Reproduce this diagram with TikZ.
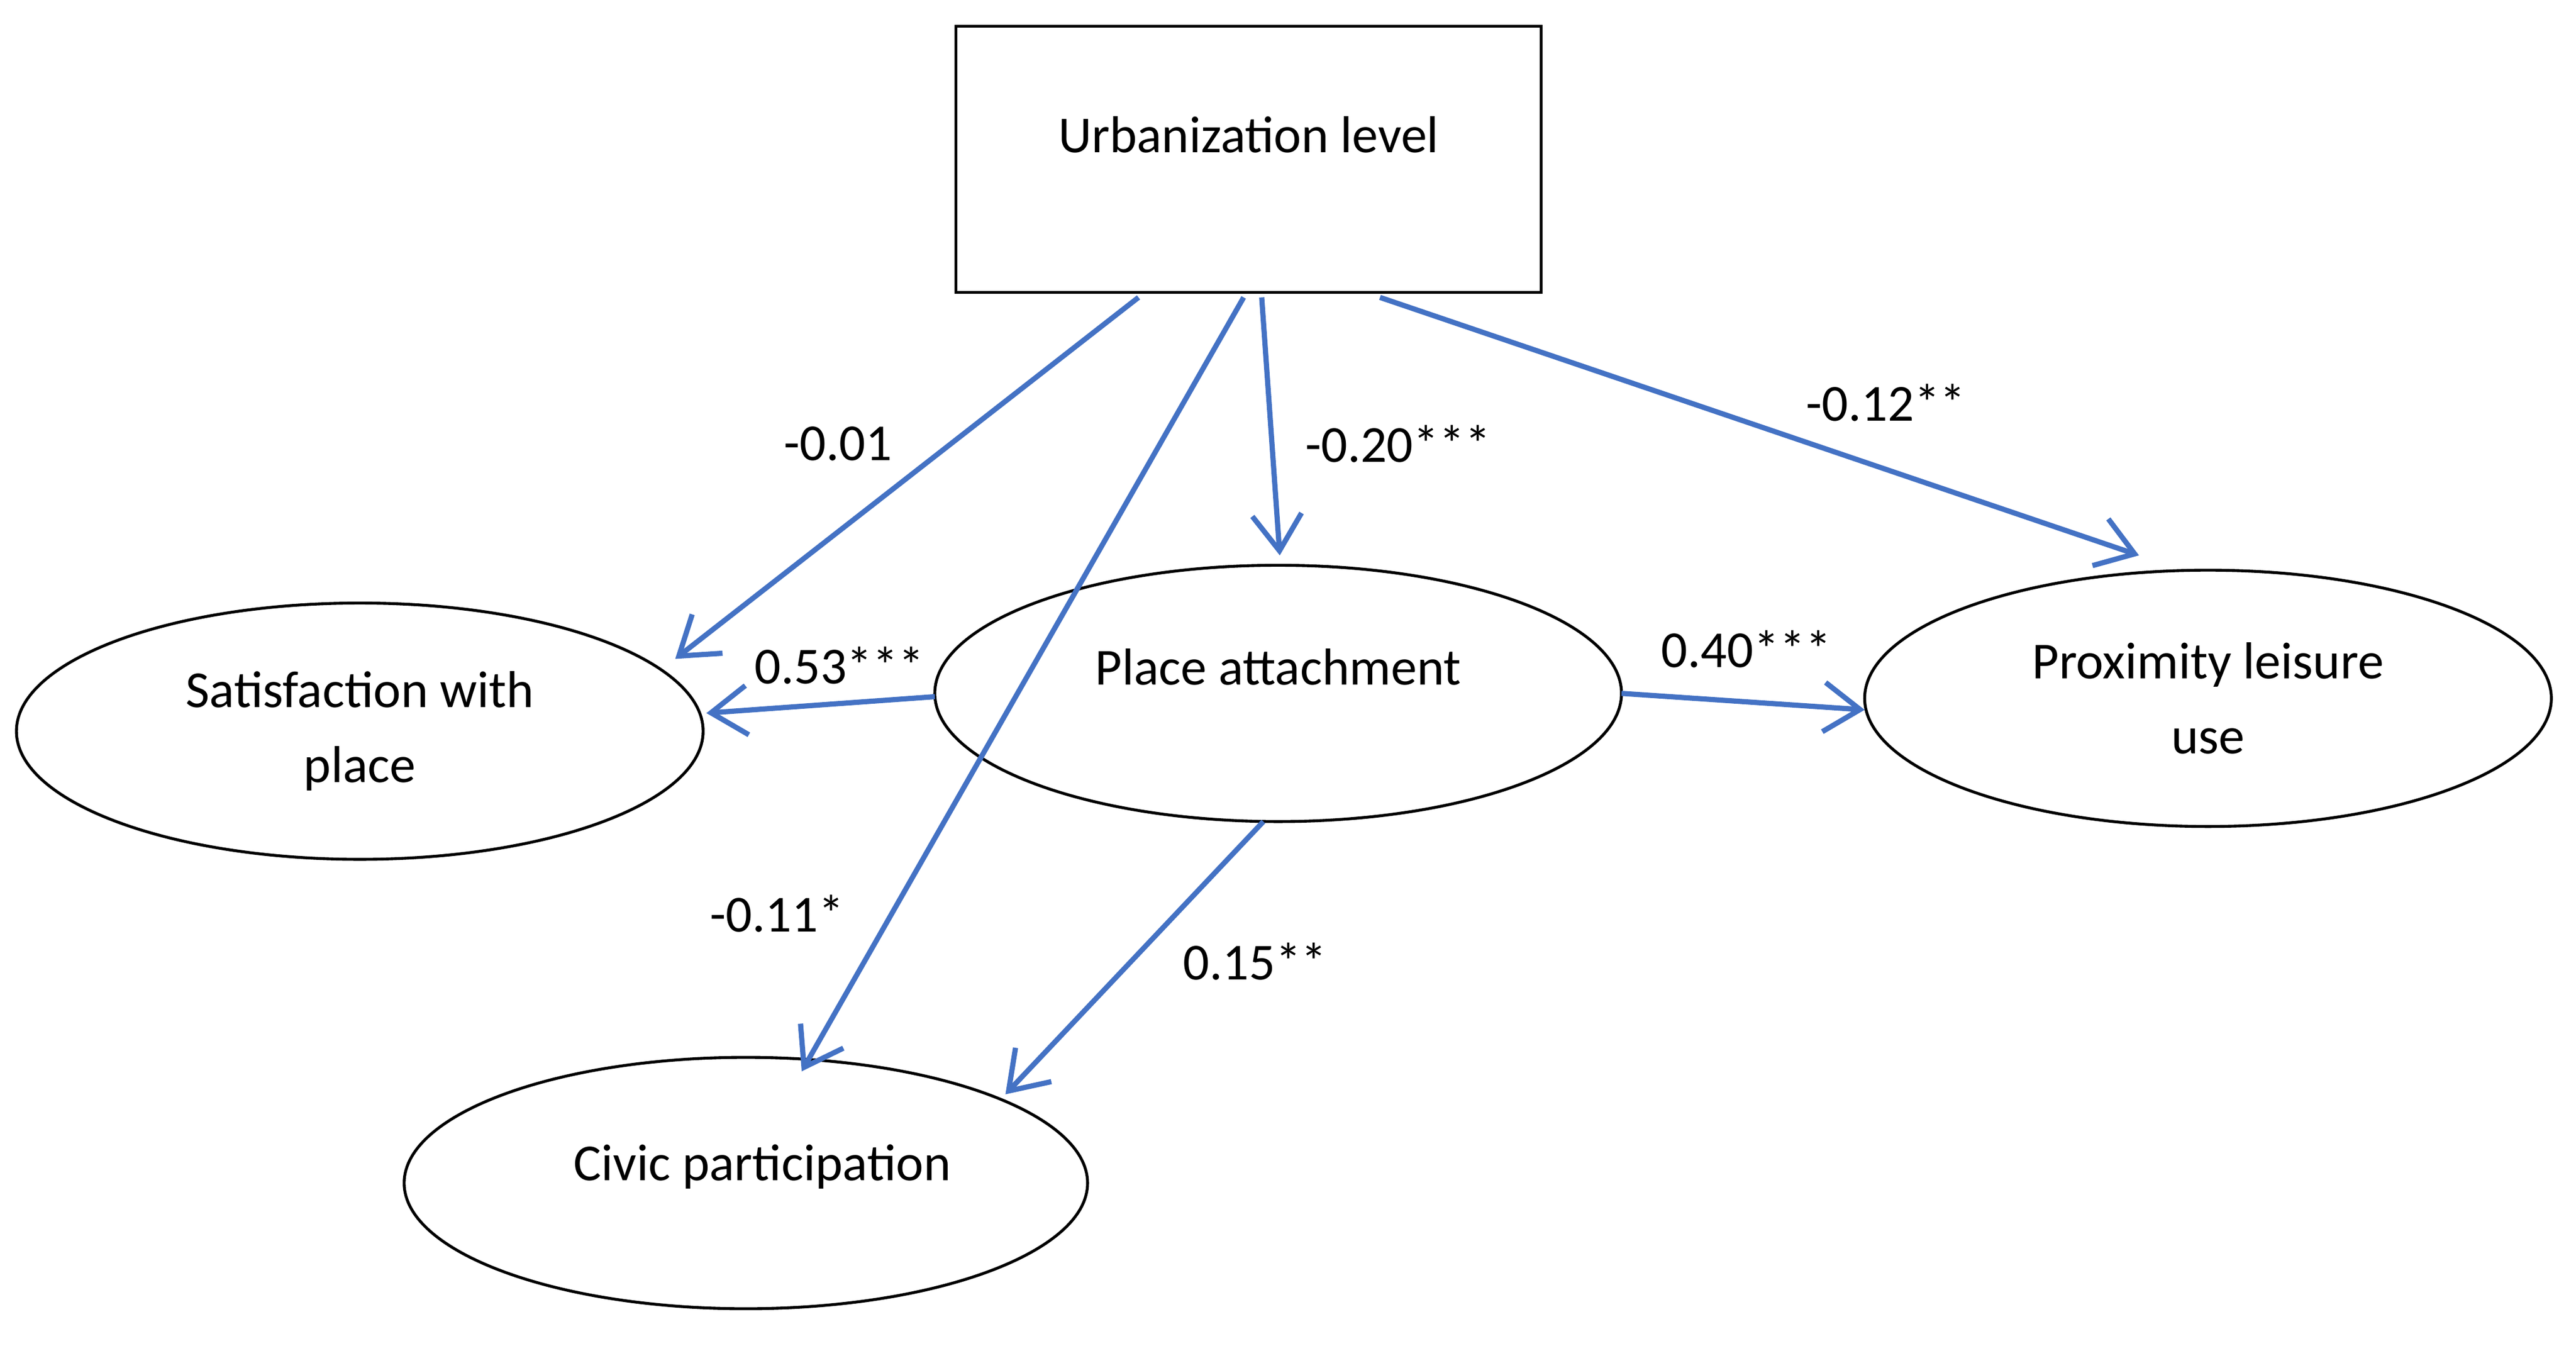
\documentclass[tikz,border=0pt]{standalone}
\usepackage{fontspec}
\setmainfont{Carlito}
\usetikzlibrary{arrows.meta, shapes.geometric}
\definecolor{pathblue}{HTML}{4472C4}
\begin{document}
\begin{tikzpicture}[
    x=0.1mm, y=-0.1mm,
    every node/.style={font=\fontsize{9}{13}\selectfont},
    construct/.style={draw, ellipse, line width=0.5pt, minimum width=41.8mm, minimum height=15.6mm, align=center},
    coef/.style={draw=none, fill=none},
    path arrow/.style={draw=pathblue, line width=0.9pt, -{Straight Barb[length=2.2mm, width=3mm]}}
]
\useasboundingbox (0,0) rectangle (1568,819);

% Constructs
\draw[line width=0.5pt] (582,16) rectangle (938,178);
\node (urb) at (760,82) {Urbanization level};
\node[construct] (sat) at (219,445) {Satisfaction with\\place};
\node[construct] (pa) at (778,422) {};
\node at (778,406) {Place attachment};
\node[construct] (prox) at (1344,425) {Proximity leisure\\use};
\node[construct, minimum width=41.6mm, minimum height=15.3mm] (civ) at (454,720) {};
\node at (464,710) {Civic participation};

% End points
\coordinate (u1) at (693,181); \coordinate (s1) at (411,401);
\coordinate (u2) at (757,181); \coordinate (c1) at (488,652);
\coordinate (u3) at (768,181); \coordinate (p1) at (779,338);
\coordinate (u4) at (840,181); \coordinate (x1) at (1302,338);
\coordinate (p2) at (569,424); \coordinate (s2) at (430,434);
\coordinate (p3) at (987,422); \coordinate (x2) at (1135,432);
\coordinate (p4) at (769,500); \coordinate (c2) at (612,666);

% Paths
\draw[path arrow] (u1) -- (s1);
\draw[path arrow] (u2) -- (c1);
\draw[path arrow] (u3) -- (p1);
\draw[path arrow] (u4) -- (x1);
\draw[path arrow] (p2) -- (s2);
\draw[path arrow] (p3) -- (x2);
\draw[path arrow] (p4) -- (c2);

% Coefficients
\node[coef] (k1) at (510,270) {-0.01};
\node[coef] (k2) at (473,556) {-0.11*};
\node[coef] (k3) at (851,270) {-0.20***};
\node[coef] (k4) at (1148,245) {-0.12**};
\node[coef] (k5) at (511,405) {0.53***};
\node[coef] (k6) at (1063,395) {0.40***};
\node[coef] (k7) at (764,585) {0.15**};
\end{tikzpicture}
\end{document}
